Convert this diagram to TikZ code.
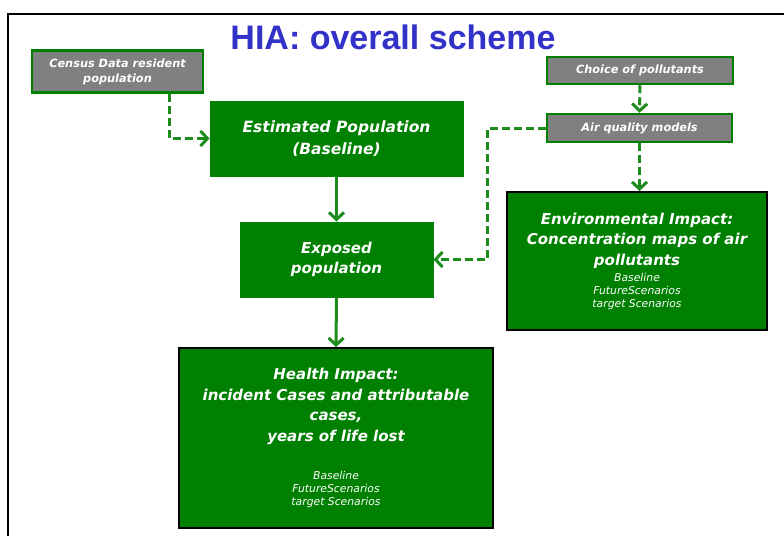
\documentclass[tikz,border=0pt]{standalone}
\usepackage{fontspec}
\setmainfont{DejaVu Sans}
\newfontfamily\titlefont{Liberation Sans}
\usetikzlibrary{arrows.meta}
\definecolor{boxgreen}{HTML}{008000}
\definecolor{linegreen}{HTML}{1C8C1C}
\definecolor{boxgray}{HTML}{808080}
\definecolor{titleblue}{HTML}{3232C8}
\newcommand{\bigf}{\bfseries\itshape\fontsize{15}{20.5}\selectfont}
\newcommand{\smf}{\mdseries\itshape\fontsize{10.8}{13}\selectfont}
\tikzset{
  greenbox/.style={fill=boxgreen, draw=boxgreen, line width=1pt, inner sep=0pt, text=white, align=center, font=\bigf},
  graybox/.style={fill=boxgray, draw=boxgreen, line width=2.5pt, inner sep=0pt, text=white, align=center, font=\bfseries\itshape\fontsize{11.3}{15}\selectfont},
  blackbox/.style={fill=boxgreen, draw=black, line width=2pt, inner sep=0pt, text=white, align=center, font=\bigf},
  conn/.style={draw=linegreen, line width=3pt, -{Straight Barb[length=7pt,width=15pt]}},
  dconn/.style={conn, dash pattern=on 8pt off 4pt},
}
\begin{document}
\begin{tikzpicture}[x=1pt,y=-1pt]
\useasboundingbox (0,0) rectangle (784,536);
\draw[line width=2pt] (784,14) -- (8,14) -- (8,536);
\node[text=titleblue, font=\titlefont\bfseries\fontsize{34}{40}\selectfont, anchor=base] (title) at (393,49) {HIA: overall scheme};
\node[graybox, minimum width=171pt, minimum height=42pt] (census) at (117.5,71.5) {Census Data resident\\population};
\node[greenbox, minimum width=253pt, minimum height=75pt, font=\bfseries\itshape\fontsize{15.5}{21.5}\selectfont] (est) at (336.5,138.5) {Estimated Population\\(Baseline)};
\node[graybox, minimum width=186pt, minimum height=27pt] (choice) at (640,70.5) {Choice of pollutants};
\node[graybox, minimum width=185pt, minimum height=28pt] (air) at (639.5,128) {Air quality models};
\node[blackbox, minimum width=260pt, minimum height=138pt] (env) at (637,261) {Environmental Impact:\\Concentration maps of air\\pollutants\\[-4.5pt]{\smf Baseline}\\[-7.5pt]{\smf FutureScenarios}\\[-7.5pt]{\smf target Scenarios}};
\node[greenbox, minimum width=193pt, minimum height=75pt] (exp) at (336.5,259.5) {Exposed\\population};
\node[blackbox, minimum width=314pt, minimum height=180pt] (health) at (336,438) {Health Impact:\\incident Cases and attributable\\cases,\\years of life lost\\[17.5pt]{\smf Baseline}\\[-7.5pt]{\smf FutureScenarios}\\[-7.5pt]{\smf target Scenarios}};
\draw[dconn] (census.south east) ++(-35,0) |- (est.west);
\draw[conn] (est.south) -- (exp.north);
\draw[conn] (exp.south) -- (health.north);
\draw[dconn] (choice.south) -- (air.north);
\draw[dconn] (air.south) -- (air.south |- env.north);
\draw[dconn] (air.west) -- ++(-58,0) |- (exp.east);
\end{tikzpicture}
\end{document}
